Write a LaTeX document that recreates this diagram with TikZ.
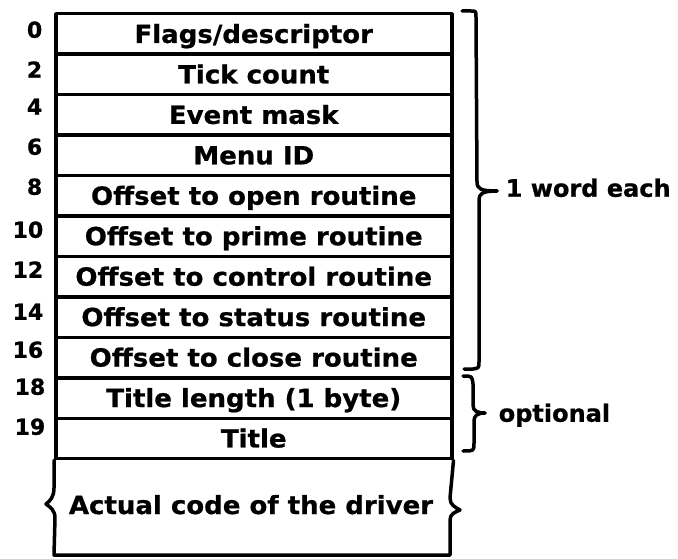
\documentclass[tikz,border=0pt]{standalone}
\usepackage{fontspec}
\newfontfamily\lbl[FakeStretch=1.04,FakeBold=0.8]{DejaVu Sans}
\newfontfamily\numfont[FakeBold=0.8]{DejaVu Sans}
\begin{document}
\begin{tikzpicture}[x=1pt,y=-1pt,line width=3.5pt,line join=round,line cap=round,
  rowbox/.style={draw, anchor=north west, minimum width=396pt, minimum height=40.45pt,
    inner sep=0pt, text height=18pt, text depth=0pt,
    font=\lbl\bfseries\fontsize{25}{25}\selectfont},
  numlbl/.style={anchor=north east, inner sep=0pt, text height=16pt, text depth=0pt,
    font=\numfont\bfseries\fontsize{22}{22}\selectfont},
  sidelbl/.style={anchor=west, inner sep=0pt, text height=17.5pt, text depth=0pt,
    font=\numfont\bfseries\fontsize{24}{24}\selectfont}]
\useasboundingbox (0,0) rectangle (678,559);
% rows
\foreach \i/\t in {0/{Flags/descriptor},1/Tick count,2/Event mask,3/Menu ID,
  4/Offset to open routine,5/Offset to prime routine,6/Offset to control routine,
  7/Offset to status routine,8/Offset to close routine,9/Title length (1 byte),10/Title}
  \node[rowbox] (r\i) at (54,{12+40.45*\i}) {\t};
% offsets
\foreach \n/\x/\y in {0/44/20,2/44/60,4/44/97,6/44/137,8/44/177,10/45/220,12/45/260,
  14/45/302,16/45/340,18/47/377,19/47/417}
  \node[numlbl] (n\n) at (\x,\y) {\n};
% code area with break marks
\coordinate (cbl) at (54,555);
\coordinate (cbr) at (450,555);
\draw (r10.south west) -- (54,488) .. controls (54,497) and (50,501) .. (46,504)
  .. controls (50,507) and (55,510) .. (55,518) -- (cbl) -- (cbr) -- (450,520)
  .. controls (450,514) and (455,512) .. (460,510)
  .. controls (455,507) and (450,505) .. (450,498) -- (r10.south east);
\node[rowbox, draw=none, anchor=center] (code) at (251,505) {Actual code of the driver};
% brace: 1 word each
\coordinate (b1t) at (462,11);
\coordinate (b1m) at (497,191);
\coordinate (b1b) at (464,369);
\draw (b1t) -- (471,11) .. controls (476,11) .. (476,17) -- (477,182)
  .. controls (477,189) and (481,191) .. (b1m);
\draw (b1m) .. controls (482,191) and (479,194) .. (479,200) -- (479,362)
  .. controls (479,368) .. (473,369) -- (b1b);
\node[sidelbl] (w1) at (504,188) {1 word each};
% brace: optional
\coordinate (b2t) at (463,376);
\coordinate (b2m) at (485,413);
\coordinate (b2b) at (463,451);
\draw (b2t) .. controls (472,376) .. (473,384) -- (473,405)
  .. controls (473,411) and (477,413) .. (b2m);
\draw (b2m) .. controls (477,413) and (474,416) .. (474,421) -- (474,443)
  .. controls (474,451) .. (b2b);
\node[sidelbl] (w2) at (497,413) {optional};
\end{tikzpicture}
\end{document}
